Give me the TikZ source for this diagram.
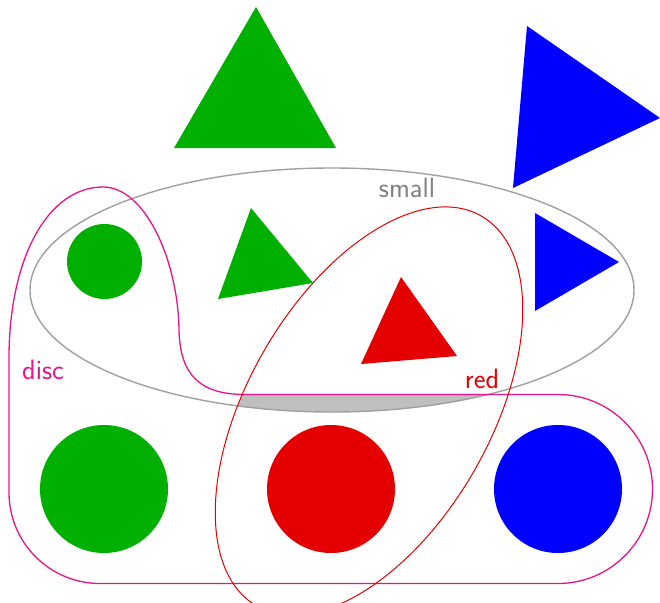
\documentclass[tikz,border=0pt]{standalone}
\usepackage{fontspec}
\definecolor{cgreen}{RGB}{0,176,0}
\definecolor{cred}{RGB}{228,0,0}
\definecolor{cblue}{RGB}{0,0,255}
\definecolor{cmag}{RGB}{230,20,140}
\definecolor{cgrayline}{RGB}{160,160,160}
\definecolor{cgraytext}{RGB}{128,128,128}
\definecolor{cfill}{RGB}{191,191,191}
\tikzset{
  lbl/.style={font=\sffamily\fontsize{28}{30}\selectfont, inner sep=0pt, anchor=base},
  smallset/.style={draw=cgrayline, line width=1.4pt},
  redset/.style={draw=cred, line width=1pt},
  discset/.style={draw=cmag, line width=1.3pt},
}
\def\discpath{(9,-358) .. controls (9,-258) and (48,-187) .. (103,-187)
     .. controls (145,-187) and (178,-260) .. (179,-330)
     .. controls (180,-375) and (200,-394.5) .. (245,-394.5)
     -- (558,-394.5) arc[start angle=90, end angle=-90, radius=94.5]
     -- (100,-583.5) arc[start angle=270, end angle=180, radius=91] -- cycle}
\begin{document}
\begin{tikzpicture}[x=1pt,y=1pt]
\useasboundingbox (0,0) rectangle (660,-602);
\begin{scope}
\clip (0,0) rectangle (660,-602);
% highlighted empty region: small & red & disc
\begin{scope}
  \clip (332,-290) ellipse [x radius=302, y radius=122];
  \clip[rotate around={60:(369,-411)}] (369,-411) ellipse [x radius=225, y radius=121];
  \fill[cfill] \discpath;
\end{scope}
% sets
\draw[smallset] (332,-290) ellipse [x radius=302, y radius=122];
\draw[discset] \discpath;
\draw[redset, rotate around={60:(369,-411)}] (369,-411) ellipse [x radius=225, y radius=121];
% large triangles
\fill[cgreen] (256,-7) -- (174,-148) -- (336,-148) -- cycle;
\fill[cblue] (527,-26) -- (513,-188) -- (660,-118) -- cycle;
% small shapes
\fill[cgreen] (104.5,-261.5) circle[radius=37.5];
\fill[cgreen] (251,-208) -- (218,-299) -- (313,-283) -- cycle;
\fill[cred] (401,-277) -- (361,-364) -- (457,-356) -- cycle;
\fill[cblue] (535,-213) -- (535,-311) -- (619,-262) -- cycle;
% large circles
\fill[cgreen] (104,-489) circle[radius=64];
\fill[cred] (331,-489) circle[radius=64];
\fill[cblue] (558,-489) circle[radius=64];
\end{scope}
% labels
\node[lbl, text=cgraytext] (small) at (407,-197) {small};
\node[lbl, text=cmag] (disc) at (43,-379) {disc};
\node[lbl, text=cred] (red) at (482,-388) {red};
\end{tikzpicture}
\end{document}
